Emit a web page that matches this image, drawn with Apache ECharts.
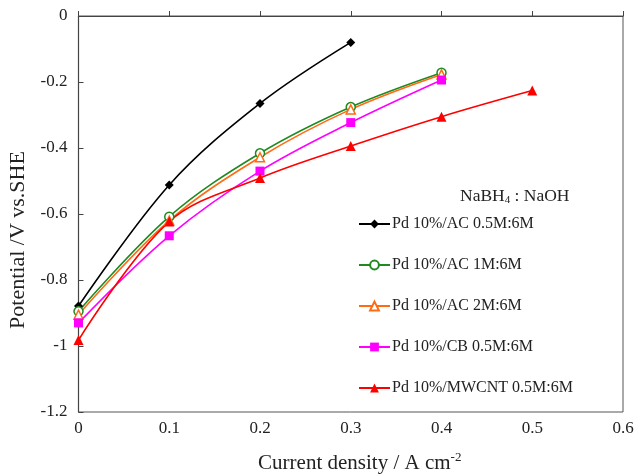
<!DOCTYPE html>
<html>
<head>
<meta charset="utf-8">
<script src="https://cdn.jsdelivr.net/npm/echarts@6/dist/echarts.min.js"></script>
<style>
  html, body { margin: 0; padding: 0; background: #fff; }
  #chart { width: 634px; height: 475px; }
</style>
</head>
<body>
<div id="chart"></div>
<script>
// Current density (A cm^-2) for each measurement
const currentDensity = [0, 0.1, 0.2, 0.3, 0.4, 0.5];

// Cell potential (V vs. SHE) per catalyst / fuel composition
const pdAC05 = [-0.879, -0.512, -0.265, -0.080];
const pdAC1 = [-0.895, -0.608, -0.416, -0.276, -0.172];
const pdAC2 = [-0.905, -0.62, -0.428, -0.283, -0.177];
const pdCB05 = [-0.93, -0.666, -0.470, -0.323, -0.194];
const pdMWCNT05 = [-0.982, -0.623, -0.491, -0.394, -0.305, -0.226];

const seriesNames = [
  'Pd 10%/AC 0.5M:6M',
  'Pd 10%/AC 1M:6M',
  'Pd 10%/AC 2M:6M',
  'Pd 10%/CB 0.5M:6M',
  'Pd 10%/MWCNT 0.5M:6M'
];

const pair = vals => vals.map((v, i) => [currentDensity[i], v]);

const serif = '"Liberation Serif", "DejaVu Serif", serif';

const chart = echarts.init(document.getElementById('chart'));

function lineSeries(name, vals, color, symbol, size, hollow) {
  return {
    name: name,
    type: 'line',
    data: pair(vals),
    smooth: 0.35,
    symbol: symbol,
    symbolSize: size,
    showAllSymbol: true,
    lineStyle: { color: color, width: 1.6 },
    itemStyle: hollow
      ? { color: '#fff', borderColor: color, borderWidth: 1.5 }
      : { color: color, borderColor: color, borderWidth: 0 },
    emphasis: { disabled: true },
    z: 3
  };
}

chart.setOption({
  animation: false,
  backgroundColor: '#fff',
  textStyle: { fontFamily: serif },
  title: {
    text: '{a|NaBH}{s|4}{a| : NaOH}',
    left: 460,
    top: 186,
    padding: 0,
    textStyle: {
      fontWeight: 'normal',
      rich: {
        a: { fontFamily: serif, fontSize: 17.5, fontWeight: 'normal', color: '#222' },
        s: { fontFamily: serif, fontSize: 11, fontWeight: 'normal', color: '#222', verticalAlign: 'bottom', padding: [9, 0, 0, 0] }
      }
    }
  },
  legend: {
    orient: 'vertical',
    left: 358,
    top: 216,
    itemWidth: 31,
    itemHeight: 11,
    itemGap: 25,
    padding: 0,
    data: seriesNames,
    textStyle: { fontFamily: serif, fontSize: 16, lineHeight: 16, color: '#222', padding: [0, 0, 0, -3] }
  },
  grid: {
    left: 78.5,
    top: 16,
    right: 11,
    bottom: 63,
    show: true,
    borderColor: '#555',
    borderWidth: 1,
    containLabel: false,
    outerBoundsMode: 'none'
  },
  xAxis: {
    type: 'value',
    min: 0,
    max: 0.6,
    interval: 0.1,
    name: '{a|Current density / A cm}{s|-2}',
    nameLocation: 'middle',
    nameGap: 39,
    nameTextStyle: {
      padding: [0, 0, 0, 18],
      rich: {
        a: { fontFamily: serif, fontSize: 21, color: '#222' },
        s: { fontFamily: serif, fontSize: 13, color: '#222', verticalAlign: 'top', padding: [0, 0, 12, 0] }
      }
    },
    axisLine: { lineStyle: { color: '#444', width: 1.2 } },
    axisTick: { inside: true, length: 5, lineStyle: { color: '#444' } },
    axisLabel: { fontFamily: serif, fontSize: 17, color: '#222', margin: 8 },
    splitLine: { show: false }
  },
  yAxis: {
    type: 'value',
    min: -1.2,
    max: 0,
    interval: 0.2,
    name: 'Potential /V vs.SHE',
    nameLocation: 'middle',
    nameGap: 45,
    nameTextStyle: { fontFamily: serif, fontSize: 22, color: '#222', padding: [0, 52, 0, 0] },
    axisLine: { lineStyle: { color: '#444', width: 1.2 } },
    axisTick: { inside: true, length: 5, lineStyle: { color: '#444' } },
    axisLabel: { fontFamily: serif, fontSize: 17, color: '#222', margin: 11 },
    splitLine: { show: false }
  },
  series: [
    lineSeries(seriesNames[0], pdAC05, '#000000', 'diamond', 9, false),
    lineSeries(seriesNames[1], pdAC1, '#1f8a1f', 'circle', 9, true),
    lineSeries(seriesNames[2], pdAC2, '#ff6a13', 'triangle', 9, true),
    lineSeries(seriesNames[3], pdCB05, '#ff00ff', 'rect', 9, false),
    lineSeries(seriesNames[4], pdMWCNT05, '#ff0000', 'triangle', 10, false)
  ]
});
</script>
</body>
</html>
